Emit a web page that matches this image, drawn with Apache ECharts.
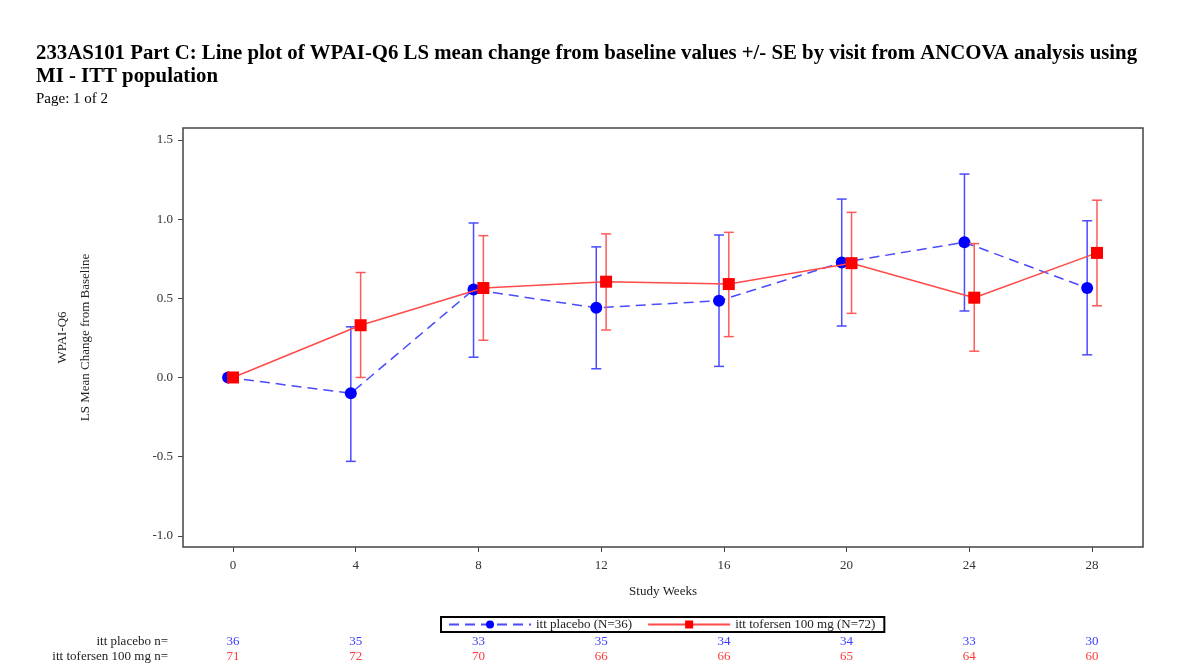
<!DOCTYPE html>
<html>
<head>
<meta charset="utf-8">
<script src="https://cdn.jsdelivr.net/npm/echarts@6/dist/echarts.min.js"></script>
<style>
html,body{margin:0;padding:0;background:#fff;}
#chart{width:1195px;height:668px;}
</style>
</head>
<body>
<div id="chart"></div>
<script>
// ---- Data ----
const weeks = [0, 4, 8, 12, 16, 20, 24, 28];
const placeboMean  = [0, -0.10, 0.555, 0.44, 0.485, 0.726, 0.854, 0.565];
const placeboLower = [null, -0.53, 0.128, 0.055, 0.07, 0.325, 0.42, 0.143];
const placeboUpper = [null, 0.32, 0.976, 0.825, 0.90, 1.127, 1.285, 0.99];
const tofMean  = [0, 0.33, 0.565, 0.605, 0.59, 0.722, 0.504, 0.787];
const tofLower = [null, 0.0, 0.235, 0.30, 0.258, 0.405, 0.166, 0.453];
const tofUpper = [null, 0.663, 0.896, 0.907, 0.917, 1.043, 0.846, 1.12];
const placeboN = [36, 35, 33, 35, 34, 34, 33, 30];
const tofN     = [71, 72, 70, 66, 66, 65, 64, 60];
const yTicks = [-1.0, -0.5, 0.0, 0.5, 1.0, 1.5];
const placeboName = 'itt placebo (N=36)';
const tofName = 'itt tofersen 100 mg (N=72)';

const SERIF = "'Liberation Serif','DejaVu Serif',serif";
const FS = 13;
const OFFSET = 0.16;
const plX = w => w - OFFSET;
const tfX = w => w === 0 ? 0 : w + OFFSET;
const X_MIN = -1.63, X_MAX = 29.66;
const Y_MIN = -1.071, Y_MAX = 1.576;

function errBarData(xf, lo, hi) {
  const out = [];
  weeks.forEach((w, i) => { if (lo[i] != null) out.push([xf(w), lo[i], hi[i]]); });
  return out;
}
function errRender(color) {
  return function (params, api) {
    const x = api.value(0);
    const pLo = api.coord([x, api.value(1)]);
    const pHi = api.coord([x, api.value(2)]);
    const cap = 5;
    const st = { stroke: color, lineWidth: 1.5 };
    return {
      type: 'group',
      children: [
        { type: 'line', shape: { x1: pLo[0], y1: pLo[1], x2: pHi[0], y2: pHi[1] }, style: st },
        { type: 'line', shape: { x1: pLo[0] - cap, y1: pLo[1], x2: pLo[0] + cap, y2: pLo[1] }, style: st },
        { type: 'line', shape: { x1: pHi[0] - cap, y1: pHi[1], x2: pHi[0] + cap, y2: pHi[1] }, style: st }
      ]
    };
  };
}

function nAxis(name, values, color, offset) {
  return {
    type: 'value', position: 'bottom', min: X_MIN, max: X_MAX, offset: offset,
    axisLine: { show: false, onZero: false }, axisTick: { show: false }, splitLine: { show: false },
    axisLabel: {
      customValues: weeks, margin: 0, verticalAlign: 'middle',
      color: color, fontFamily: SERIF, fontSize: FS,
      formatter: v => String(values[weeks.indexOf(Math.round(v))])
    },
    name: name, nameLocation: 'start', nameGap: 15,
    nameTextStyle: { color: '#222', fontFamily: SERIF, fontSize: FS, verticalAlign: 'middle', align: 'right' }
  };
}

const chart = echarts.init(document.getElementById('chart'), null, { renderer: 'canvas' });
chart.setOption({
  animation: false,
  backgroundColor: '#fff',
  graphic: [
    { type: 'text', left: 36, top: 43, style: { text: '233AS101 Part C: Line plot of WPAI-Q6 LS mean change from baseline values +/- SE by visit from ANCOVA analysis using', font: "bold 20.8px " + SERIF, fill: '#000' } },
    { type: 'text', left: 36, top: 66, style: { text: 'MI - ITT population', font: "bold 20.8px " + SERIF, fill: '#000' } },
    { type: 'text', left: 36, top: 92, style: { text: 'Page: 1 of 2', font: "15px " + SERIF, fill: '#000' } }
  ],
  grid: { left: 183, right: 52, top: 128, bottom: 121, show: true, borderColor: '#444', borderWidth: 1.5, containLabel: false },
  legend: {
    left: 441, top: 617,
    orient: 'horizontal',
    data: [placeboName, tofName],
    itemWidth: 82, itemHeight: 10, itemGap: 15,
    borderColor: '#000', borderWidth: 2, padding: [1, 9, 1, 7],
    textStyle: { fontFamily: SERIF, fontSize: FS, color: '#222' }
  },
  xAxis: [
    {
      type: 'value', min: X_MIN, max: X_MAX,
      axisLine: { show: false, onZero: false }, splitLine: { show: false },
      axisTick: { show: true, customValues: weeks, length: 5, lineStyle: { color: '#444', width: 1 } },
      axisLabel: { customValues: weeks, margin: 12, color: '#333', fontFamily: SERIF, fontSize: FS },
      name: 'Study Weeks', nameLocation: 'middle', nameGap: 38,
      nameTextStyle: { color: '#222', fontFamily: SERIF, fontSize: FS }
    },
    nAxis('itt placebo n=', placeboN, '#3a3aff', 95),
    nAxis('itt tofersen 100 mg n=', tofN, '#ff3a3a', 110)
  ],
  yAxis: {
    type: 'value', min: Y_MIN, max: Y_MAX,
    axisLine: { show: false, onZero: false }, splitLine: { show: false },
    axisTick: { show: true, customValues: yTicks, length: 5, lineStyle: { color: '#444', width: 1 } },
    axisLabel: { customValues: yTicks, margin: 10, color: '#333', fontFamily: SERIF, fontSize: FS, formatter: v => v.toFixed(1) },
    name: 'WPAI-Q6\nLS Mean Change from Baseline', nameLocation: 'middle', nameGap: 86,
    nameTextStyle: { color: '#222', fontFamily: SERIF, fontSize: FS, lineHeight: 23 }
  },
  series: [
    {
      type: 'custom', name: 'placeboErr', xAxisIndex: 0, renderItem: errRender('#4a4aff'),
      data: errBarData(plX, placeboLower, placeboUpper), z: 2, silent: true
    },
    {
      type: 'line', name: placeboName, xAxisIndex: 0,
      data: weeks.map((w, i) => [plX(w), placeboMean[i]]),
      symbol: 'circle', symbolSize: 12,
      itemStyle: { color: '#0000ff' },
      lineStyle: { color: '#4a4aff', width: 1.5, type: [10, 6] }, z: 3
    },
    {
      type: 'custom', name: 'tofErr', xAxisIndex: 0, renderItem: errRender('#ff5a5a'),
      data: errBarData(tfX, tofLower, tofUpper), z: 4, silent: true
    },
    {
      type: 'line', name: tofName, xAxisIndex: 0,
      data: weeks.map((w, i) => [tfX(w), tofMean[i]]),
      symbol: 'rect', symbolSize: 12,
      itemStyle: { color: '#ff0000' },
      lineStyle: { color: '#ff4a4a', width: 1.5, type: 'solid' }, z: 5
    }
  ]
});
</script>
</body>
</html>
